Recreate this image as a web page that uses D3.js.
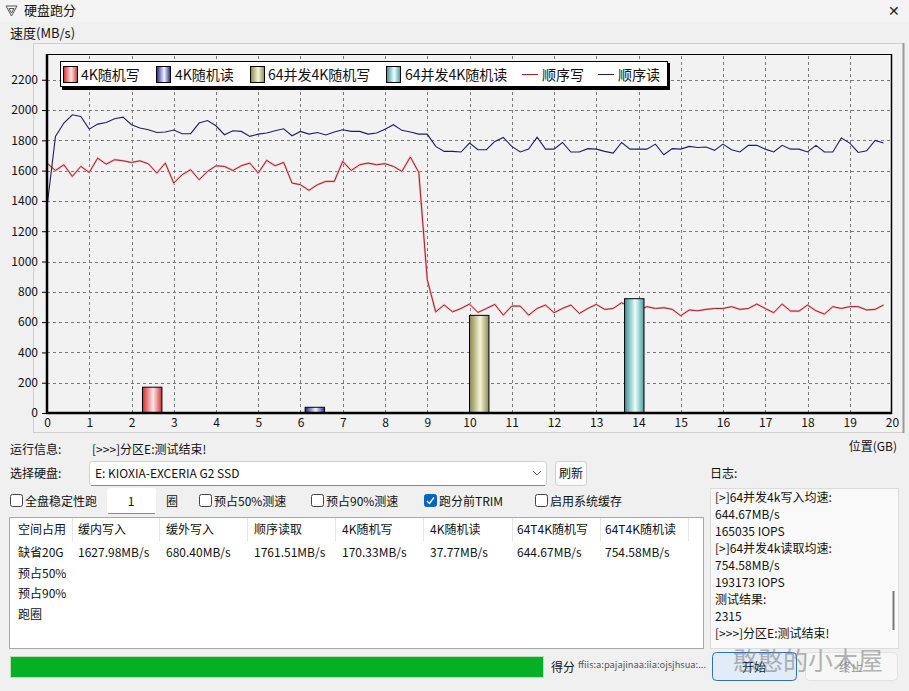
<!DOCTYPE html>
<html>
<head>
<meta charset="utf-8">
<script src="https://cdn.jsdelivr.net/npm/d3@7"></script>
<style>
  body { margin: 0; background: #f0f0f0; }
  svg { display: block; }
  text { font-family: "Noto Sans CJK SC", "Noto Sans", sans-serif; }
</style>
</head>
<body>
<svg id="win" width="909" height="691"></svg>
<script>
// ---- data ----
var sampleStepGB = 0.2;   // one point every 0.2 GB
var seqWrite = [1650,1601,1639,1562,1628,1588,1683,1643,1672,1665,1654,1665,1645,1584,1650,1518,1573,1606,1540,1595,
  1632,1628,1601,1632,1650,1584,1668,1632,1654,1518,1507,1470,1507,1529,1529,1661,1601,1639,1650,1639,
  1646,1628,1595,1690,1588,880,668,713,668,690,719,664,690,717,646,706,706,646,690,713,
  662,690,713,657,690,717,684,690,728,702,680,702,690,695,684,642,680,675,684,690,
  690,702,684,690,719,690,662,719,673,673,713,675,653,702,690,702,702,680,684,713];
var seqRead = [1360,1826,1914,1969,1958,1874,1907,1918,1942,1953,1903,1881,1870,1852,1855,1868,1844,1844,1914,1931,
  1896,1837,1863,1859,1826,1841,1848,1863,1876,1830,1859,1841,1852,1835,1855,1870,1859,1859,1841,1848,
  1874,1903,1866,1855,1841,1841,1760,1727,1727,1723,1782,1738,1738,1793,1819,1760,1723,1742,1821,1742,
  1742,1786,1723,1723,1745,1742,1727,1716,1786,1742,1742,1742,1775,1705,1745,1742,1760,1753,1756,1734,
  1775,1738,1723,1767,1767,1742,1723,1767,1742,1742,1723,1767,1723,1723,1815,1782,1720,1731,1799,1782];

var barNames  = ["4K随机写", "4K随机读", "64并发4K随机写", "64并发4K随机读"];
var barValues = [170.33, 37.77, 644.67, 754.58];
var barPosGB  = [2.49, 6.34, 10.23, 13.90];
var lineNames = ["顺序写", "顺序读"];

var xTicks = [0,1,2,3,4,5,6,7,8,9,10,11,12,13,14,15,16,17,18,19,20];
var yTicks = [0,200,400,600,800,1000,1200,1400,1600,1800,2000,2200];

var tableHeaders = ["空间占用","缓内写入","缓外写入","顺序读取","4K随机写","4K随机读","64T4K随机写","64T4K随机读"];
var tableRowLabels = ["缺省20G","预占50%","预占90%","跑圈"];
var defaultRow = ["1627.98MB/s","680.40MB/s","1761.51MB/s","170.33MB/s","37.77MB/s","644.67MB/s","754.58MB/s"];

var logLines = ["[>]64并发4k写入均速:","644.67MB/s","165035 IOPS","[>]64并发4k读取均速:","754.58MB/s",
  "193173 IOPS","测试结果:","2315","[>>>]分区E:测试结束!"];

var options = [
  {label: "全盘稳定性跑", x: 10, checked: false},
  {label: "预占50%测速", x: 199, checked: false},
  {label: "预占90%测速", x: 311, checked: false},
  {label: "跑分前TRIM", x: 424, checked: true},
  {label: "启用系统缓存", x: 535, checked: false}
];

// ---- setup ----
var svg = d3.select("#win");
var defs = svg.append("defs");

var barColors = [
  ["#d42a2a", "#ffe6e6", "#cc3535"],
  ["#22228a", "#f4f4ff", "#26268c"],
  ["#86864a", "#f6f6d6", "#8a8a52"],
  ["#3c8e8e", "#eaffff", "#4a9c9c"]
];
barColors.forEach(function(c, i) {
  var g = defs.append("linearGradient").attr("id", "cyl" + i)
    .attr("x1", 0).attr("x2", 1).attr("y1", 0).attr("y2", 0);
  g.append("stop").attr("offset", 0).attr("stop-color", c[0]);
  g.append("stop").attr("offset", 0.55).attr("stop-color", c[1]);
  g.append("stop").attr("offset", 1).attr("stop-color", c[2]);
});

// window background + title bar
svg.append("rect").attr("width", 909).attr("height", 691).attr("fill", "#f0f0f0");
svg.append("rect").attr("width", 909).attr("height", 22).attr("fill", "#f4f4f4");
svg.append("path").attr("d", "M6 6 L17 6 L11.5 16 Z M9 8.5 L14 8.5 L11.5 13 Z")
  .attr("fill", "none").attr("stroke", "#555").attr("stroke-width", 1);
svg.append("text").attr("x", 24).attr("y", 15).attr("font-size", 13).attr("fill", "#111").text("硬盘跑分");
svg.append("text").attr("x", 888).attr("y", 16).attr("font-size", 14).attr("fill", "#222").text("✕");

svg.append("text").attr("x", 10).attr("y", 38).attr("font-size", 13).attr("fill", "#111").text("速度(MB/s)");

// chart panel
svg.append("rect").attr("x", 33.5).attr("y", 43.5).attr("width", 870).attr("height", 389)
  .attr("fill", "#f2f2f2").attr("stroke", "#cfcfcf");
svg.append("line").attr("x1", 903.5).attr("x2", 903.5).attr("y1", 43).attr("y2", 433)
  .attr("stroke", "#9a9a9a").attr("stroke-width", 2);

var x = d3.scaleLinear().domain([0, 20]).range([47, 892]);
var y = d3.scaleLinear().domain([0, 2370]).range([413, 54]);

var plot = svg.append("g");

// grid
plot.append("g").selectAll("line").data(yTicks.slice(1)).enter().append("line")
  .attr("x1", x(0)).attr("x2", x(20))
  .attr("y1", function(d) { return Math.round(y(d)) + 0.5; })
  .attr("y2", function(d) { return Math.round(y(d)) + 0.5; })
  .attr("stroke", "#7a7a7a").attr("stroke-dasharray", "3,3");
plot.append("g").selectAll("line").data(xTicks.slice(1, 20)).enter().append("line")
  .attr("x1", function(d) { return Math.round(x(d)) + 0.5; })
  .attr("x2", function(d) { return Math.round(x(d)) + 0.5; })
  .attr("y1", y(0)).attr("y2", 54)
  .attr("stroke", "#7a7a7a").attr("stroke-dasharray", "3,3");

// frame
plot.append("line").attr("x1", 47).attr("x2", 892).attr("y1", 54.5).attr("y2", 54.5).attr("stroke", "#000");
plot.append("line").attr("x1", 891.5).attr("x2", 891.5).attr("y1", 54).attr("y2", 414).attr("stroke", "#000").attr("stroke-width", 1.5);

// axes
var yAxis = plot.append("g").attr("transform", "translate(47,0)")
  .call(d3.axisLeft(y).tickValues(yTicks).tickFormat(d3.format("d")).tickSize(5).tickPadding(4));
var xAxis = plot.append("g").attr("transform", "translate(0,413)")
  .call(d3.axisBottom(x).tickValues(xTicks).tickFormat(d3.format("d")).tickSize(0).tickPadding(5));
[yAxis, xAxis].forEach(function(a) {
  a.select(".domain").remove();
  a.selectAll("text").attr("font-family", "'Liberation Sans', Arial, sans-serif")
    .attr("font-size", 12).attr("fill", "#111");
  a.selectAll("line").attr("stroke", "#000");
});

// sequential lines
var line = d3.line()
  .x(function(d, i) { return x(i * sampleStepGB); })
  .y(function(d) { return y(d); });
plot.append("path").datum(seqWrite).attr("d", line)
  .attr("fill", "none").attr("stroke", "#f0b8bc").attr("stroke-width", 2.2);
plot.append("path").datum(seqWrite).attr("d", line)
  .attr("fill", "none").attr("stroke", "#a3202e").attr("stroke-width", 1);
plot.append("path").datum(seqRead).attr("d", line)
  .attr("fill", "none").attr("stroke", "#1c1c6c").attr("stroke-width", 1.1);

// random IO bars (cylinder style)
var barW = 0.46;
plot.append("g").selectAll("rect").data(barValues).enter().append("rect")
  .attr("x", function(d, i) { return x(barPosGB[i] - barW / 2); })
  .attr("width", function() { return x(barW) - x(0); })
  .attr("y", function(d) { return y(d); })
  .attr("height", function(d) { return y(0) - y(d); })
  .attr("fill", function(d, i) { return "url(#cyl" + i + ")"; })
  .attr("stroke", "#000").attr("stroke-width", 1);

// heavy axis lines on top
plot.append("line").attr("x1", 47).attr("x2", 47).attr("y1", 54).attr("y2", 414).attr("stroke", "#000").attr("stroke-width", 2.5);
plot.append("line").attr("x1", 46).attr("x2", 892).attr("y1", 413).attr("y2", 413).attr("stroke", "#000").attr("stroke-width", 2.5);

// legend
var lg = svg.append("g");
lg.append("rect").attr("x", 62).attr("y", 63).attr("width", 608).attr("height", 27).attr("fill", "#000");
lg.append("rect").attr("x", 60.5).attr("y", 61.5).attr("width", 607).attr("height", 25).attr("fill", "#fff").attr("stroke", "#000");
var swatchX = [63, 156, 250, 386];
var labelX = [81, 175, 268, 405];
barNames.forEach(function(n, i) {
  lg.append("rect").attr("x", swatchX[i] + 0.5).attr("y", 66.5).attr("width", 14).attr("height", 16)
    .attr("fill", "url(#cyl" + i + ")").attr("stroke", "#000");
  lg.append("text").attr("x", labelX[i]).attr("y", 80).attr("font-size", 14).attr("fill", "#111")
    .attr("font-family", "'Liberation Serif', 'Noto Sans CJK SC', serif").text(n);
});
var lineColors = ["#a3202e", "#1c1c6c"];
var lineSwX = [522, 598];
lineNames.forEach(function(n, i) {
  lg.append("line").attr("x1", lineSwX[i]).attr("x2", lineSwX[i] + 16).attr("y1", 74.5).attr("y2", 74.5)
    .attr("stroke", lineColors[i]);
  lg.append("text").attr("x", lineSwX[i] + 20).attr("y", 80).attr("font-size", 14).attr("fill", "#111")
    .attr("font-family", "'Liberation Serif', 'Noto Sans CJK SC', serif").text(n);
});

svg.append("text").attr("x", 897).attr("y", 451).attr("text-anchor", "end").attr("font-size", 12).attr("fill", "#111").text("位置(GB)");

// status + disk picker
svg.append("text").attr("x", 10).attr("y", 454).attr("font-size", 12).attr("fill", "#111").text("运行信息:");
svg.append("text").attr("x", 92).attr("y", 454).attr("font-size", 12).attr("fill", "#111").text("[>>>]分区E:测试结束!");
svg.append("text").attr("x", 10).attr("y", 478).attr("font-size", 12).attr("fill", "#111").text("选择硬盘:");
svg.append("rect").attr("x", 89.5).attr("y", 461.5).attr("width", 457).attr("height", 24).attr("rx", 3)
  .attr("fill", "#fff").attr("stroke", "#d0d0d0");
svg.append("line").attr("x1", 91).attr("x2", 545).attr("y1", 485.5).attr("y2", 485.5).attr("stroke", "#8a8a8a");
svg.append("text").attr("x", 95).attr("y", 478).attr("font-size", 12).attr("fill", "#111").text("E: KIOXIA-EXCERIA G2 SSD");
svg.append("path").attr("d", "M533 471 L537 475 L541 471").attr("fill", "none").attr("stroke", "#666");
svg.append("rect").attr("x", 555.5).attr("y", 461.5).attr("width", 31).attr("height", 24).attr("rx", 3)
  .attr("fill", "#fbfbfb").attr("stroke", "#d0d0d0");
svg.append("text").attr("x", 571).attr("y", 478).attr("text-anchor", "middle").attr("font-size", 12).attr("fill", "#111").text("刷新");
svg.append("text").attr("x", 710).attr("y", 478).attr("font-size", 12).attr("fill", "#111").text("日志:");

// option row
var opt = svg.append("g").selectAll("g").data(options).enter().append("g");
opt.append("rect").attr("x", function(d) { return d.x + 0.5; }).attr("y", 494.5).attr("width", 12).attr("height", 12).attr("rx", 2)
  .attr("fill", function(d) { return d.checked ? "#0067c0" : "#fff"; })
  .attr("stroke", function(d) { return d.checked ? "#0067c0" : "#444"; });
opt.filter(function(d) { return d.checked; }).append("path")
  .attr("d", function(d) { return "M" + (d.x + 3) + " 501 L" + (d.x + 5.5) + " 503.5 L" + (d.x + 10) + " 497.5"; })
  .attr("fill", "none").attr("stroke", "#fff").attr("stroke-width", 1.3);
opt.append("text").attr("x", function(d) { return d.x + 15; }).attr("y", 506).attr("font-size", 12).attr("fill", "#111")
  .text(function(d) { return d.label; });
svg.append("rect").attr("x", 107).attr("y", 488).attr("width", 49).attr("height", 26).attr("rx", 3).attr("fill", "#fff");
svg.append("line").attr("x1", 108).attr("x2", 155).attr("y1", 513.5).attr("y2", 513.5).attr("stroke", "#8a8a8a");
svg.append("text").attr("x", 131).attr("y", 506).attr("text-anchor", "middle").attr("font-size", 12).attr("fill", "#111").text("1");
svg.append("text").attr("x", 166).attr("y", 506).attr("font-size", 12).attr("fill", "#111").text("圈");

// result table
var colX = [18, 78, 166, 254, 342, 430, 517, 605];
var sepX = [72, 159, 247, 335, 423, 512, 600, 688];
svg.append("rect").attr("x", 9.5).attr("y", 517.5).attr("width", 694).attr("height", 131).attr("fill", "#fff").attr("stroke", "#a8a8a8");
svg.append("g").selectAll("line").data(sepX).enter().append("line")
  .attr("x1", function(d) { return d + 0.5; }).attr("x2", function(d) { return d + 0.5; })
  .attr("y1", 518).attr("y2", 541).attr("stroke", "#e6e6e6");
svg.append("g").selectAll("text").data(tableHeaders).enter().append("text")
  .attr("x", function(d, i) { return colX[i]; }).attr("y", 534).attr("font-size", 12).attr("fill", "#111")
  .text(function(d) { return d; });
svg.append("g").selectAll("text").data(tableRowLabels).enter().append("text")
  .attr("x", 18).attr("y", function(d, i) { return 557 + i * 20.5; }).attr("font-size", 12).attr("fill", "#111")
  .text(function(d) { return d; });
svg.append("g").selectAll("text").data(defaultRow).enter().append("text")
  .attr("x", function(d, i) { return colX[i + 1]; }).attr("y", 557).attr("font-size", 12).attr("fill", "#111")
  .text(function(d) { return d; });

// log panel
svg.append("rect").attr("x", 710.5).attr("y", 488.5).attr("width", 188).attr("height", 160).attr("fill", "#f9f9f9").attr("stroke", "#dcdcdc");
svg.append("g").selectAll("text").data(logLines).enter().append("text")
  .attr("x", 715).attr("y", function(d, i) { return 502 + i * 17; }).attr("font-size", 12).attr("fill", "#111")
  .text(function(d) { return d; });
svg.append("line").attr("x1", 893.5).attr("x2", 893.5).attr("y1", 591).attr("y2", 630).attr("stroke", "#777").attr("stroke-width", 2);

// progress + buttons
svg.append("rect").attr("x", 10.5).attr("y", 656.5).attr("width", 533).attr("height", 21).attr("fill", "#06b025").attr("stroke", "#bcdcbc");
svg.append("text").attr("x", 551).attr("y", 672).attr("font-size", 12).attr("fill", "#111").text("得分");
svg.append("text").attr("x", 578).attr("y", 668).attr("font-size", 9).attr("fill", "#555")
  .attr("textLength", 128).attr("lengthAdjust", "spacingAndGlyphs").text("ffiis:a:pajajinaa:iia:ojsjhsua:...");
svg.append("rect").attr("x", 712.5).attr("y", 652.5).attr("width", 84).attr("height", 28).attr("rx", 4)
  .attr("fill", "#e1ecf8").attr("stroke", "#2f6fb3");
svg.append("text").attr("x", 754).attr("y", 672).attr("text-anchor", "middle").attr("font-size", 12).attr("fill", "#111").text("开始");
svg.append("rect").attr("x", 805.5).attr("y", 652.5).attr("width", 92).attr("height", 28).attr("rx", 4)
  .attr("fill", "#f7f7f7").attr("stroke", "#e2e2e2");
svg.append("text").attr("x", 851).attr("y", 672).attr("text-anchor", "middle").attr("font-size", 12).attr("fill", "#9a9a9a").text("终止");
// watermark sits over the buttons in the original screenshot
svg.append("text").attr("x", 733).attr("y", 670).attr("font-size", 25).attr("fill", "#7a7a7a").attr("opacity", 0.55).text("憨憨的小木屋");
</script>
</body>
</html>
